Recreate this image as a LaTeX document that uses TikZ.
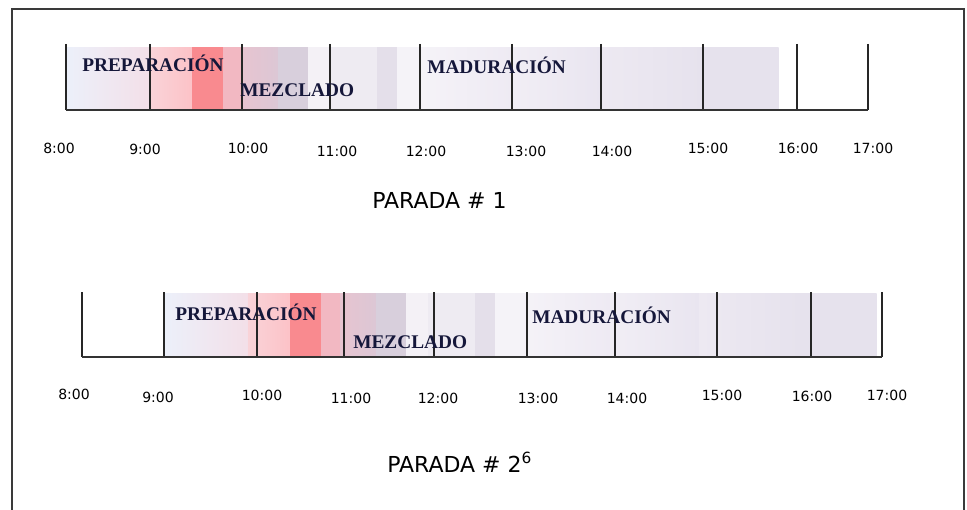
\documentclass[tikz,border=0pt]{standalone}
\usepackage{fontspec}
\setmainfont{DejaVu Sans}
\newfontfamily\lblfont{Liberation Serif}
\definecolor{navy}{HTML}{15173A}
\definecolor{framec}{HTML}{3A3A3A}
\definecolor{sA}{HTML}{ECF0FA}
\definecolor{sB}{HTML}{F3DFE8}
\definecolor{sC}{HTML}{F9D3D8}
\definecolor{sD}{HTML}{FCC2C7}
\definecolor{sE}{HTML}{F98A8F}
\definecolor{sF}{HTML}{F2B8C2}
\definecolor{sG}{HTML}{E7C4D0}
\definecolor{sH}{HTML}{DCC7D5}
\definecolor{sI}{HTML}{D8CFDC}
\definecolor{sJ}{HTML}{F4F1F6}
\definecolor{sK}{HTML}{EEEBF2}
\definecolor{sL}{HTML}{E4DFEA}
\definecolor{sM}{HTML}{F5F3F8}
\definecolor{sN}{HTML}{EEEAF3}
\definecolor{sO}{HTML}{F1EEF5}
\definecolor{sP}{HTML}{E9E5F0}
\definecolor{sQ}{HTML}{EDE9F2}
\definecolor{sR}{HTML}{E6E2ED}
\newcommand{\mybands}[2]{%
  \foreach \a/\b/\l/\r in {0/84/sA/sB, 84/126/sC/sD, 126/157/sE/sE, 157/176/sF/sF,
    176/212/sG/sH, 212/242/sI/sI, 242/264/sJ/sJ, 264/311/sK/sK, 311/331/sL/sL,
    331/354/sM/sM, 354/446/sM/sN, 446/535/sO/sP, 535/637/sQ/sR, 637/712/sR/sR}
    {\shade[left color=\l, right color=\r] (\a,#1) rectangle ({\b+0.6},#2);}%
}
\tikzset{
  tick/.style={line width=0.95pt, draw=black!85},
  baseln/.style={line width=1.2pt, draw=black!80},
  phase/.style={font=\lblfont\bfseries\fontsize{14.5}{16}\selectfont, text=navy, inner sep=0pt, anchor=base west},
  timelbl/.style={font=\fontsize{10.5}{12}\selectfont, inner sep=0pt, anchor=base},
  parada/.style={font=\fontsize{16.5}{19}\selectfont, inner sep=0pt, anchor=base west},
  frame/.style={line width=1.2pt, draw=framec}
}
\begin{document}
\begin{tikzpicture}[x=0.75pt, y=-0.75pt]
\useasboundingbox (0,0) rectangle (967,510);
\fill[white] (0,0) rectangle (967,510);
% frame
\draw[frame] (12,512) -- (12,9) -- (964,9) -- (964,512);
% ---------- timeline 1 ----------
\begin{scope}[shift={(66,0)}]
  \mybands{48}{109}
\end{scope}
\foreach \x in {66,150,242,330,420,512,601,703,797,868}
  \draw[tick] (\x,44) -- (\x,110);
\coordinate (b1s) at (66,110);
\coordinate (b1e) at (868,110);
\draw[baseln] (b1s) -- (b1e);
\node[phase] (prep1) at (82,72) {PREPARACIÓN};
\node[phase] (mezc1) at (240,96) {MEZCLADO};
\node[phase] (madu1) at (427,74) {MADURACIÓN};
\foreach \x/\y/\t [count=\i] in {59/153/8:00, 145/154/9:00, 248/153/10:00, 337/156/11:00,
   426/156/12:00, 526/156/13:00, 612/156/14:00, 708/153/15:00, 798/153/16:00, 873/153/17:00}
  \node[timelbl] (ta\i) at (\x,\y) {\t};
\node[parada] (par1) at (372,208) {PARADA \# 1};
% ---------- timeline 2 ----------
\begin{scope}[shift={(164,0)}]
  \mybands{293}{356}
\end{scope}
\foreach \x in {82,164,257,344,434,527,615,717,811,882}
  \draw[tick] (\x,292) -- (\x,357);
\coordinate (b2s) at (82,357);
\coordinate (b2e) at (882,357);
\draw[baseln] (b2s) -- (b2e);
\node[phase] (prep2) at (175,320) {PREPARACIÓN};
\node[phase] (mezc2) at (353,348) {MEZCLADO};
\node[phase] (madu2) at (532,323) {MADURACIÓN};
\foreach \x/\y/\t [count=\i] in {74/399/8:00, 158/402/9:00, 262/400/10:00, 351/403/11:00,
   438/403/12:00, 538/403/13:00, 627/403/14:00, 722/400/15:00, 812/401/16:00, 887/400/17:00}
  \node[timelbl] (tb\i) at (\x,\y) {\t};
\node[parada] (par2) at (387,472) {PARADA \# 2\textsuperscript{6}};
\end{tikzpicture}
\end{document}
